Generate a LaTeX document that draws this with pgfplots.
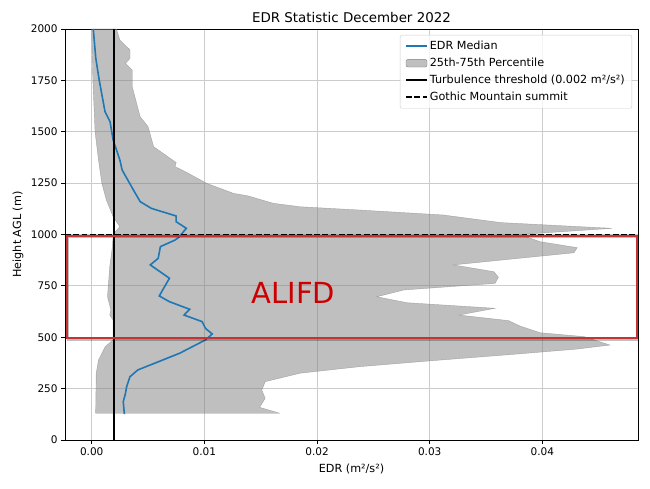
\documentclass[border=0pt]{standalone}
\usepackage{fontspec}
\setmainfont{DejaVu Sans}
\usepackage{pgfplots}
\pgfplotsset{compat=1.18}
\definecolor{mplblue}{HTML}{1F77B4}
\definecolor{boxred}{RGB}{196,52,52}
\definecolor{txtred}{RGB}{204,0,0}
\begin{document}
\begin{tikzpicture}
\path[use as bounding box] (-65pt,-49pt) rectangle (585pt,440pt);
\begin{axis}[
  scale only axis, width=573pt, height=411pt,
  xmin=-0.00237, xmax=0.04849, ymin=0, ymax=2000,
  xtick={0,0.01,0.02,0.03,0.04},
  xticklabels={0.00,0.01,0.02,0.03,0.04},
  ytick={0,250,500,750,1000,1250,1500,1750,2000},
  yticklabels={0,250,500,750,1000,1250,1500,1750,2000},
  scaled x ticks=false,
  xtick pos=bottom, ytick pos=left,
  tick align=outside, major tick length=3.9pt,
  tick style={black, line width=0.9pt},
  axis line style={line width=0.9pt},
  xmajorgrids, ymajorgrids,
  grid style={color=black!20, line width=0.9pt},
  tick label style={font=\fontsize{10.5}{12.6}\selectfont},
  label style={font=\fontsize{11.2}{13.4}\selectfont},
  title style={font=\fontsize{13.4}{16}\selectfont, at={([yshift=0.3pt]rel axis cs:0.5,1)}, anchor=base},
  title={EDR Statistic December 2022},
  xlabel={EDR (m²/s²)},
  ylabel={Height AGL (m)},
  xlabel style={at={([yshift=-33pt]rel axis cs:0.5,0)}, anchor=base},
  ylabel style={at={([xshift=-47pt]rel axis cs:0,0.5)}, anchor=center},
  legend cell align=left,
  legend style={at={(rel axis cs:1,1)}, anchor=north east, xshift=-6pt, yshift=-6pt,
    draw=black!20, rounded corners=2pt, fill=white, fill opacity=0.8, text opacity=1,
    font=\fontsize{11.2}{13.4}\selectfont, row sep=3pt, inner xsep=5pt, inner ysep=4pt},
  legend image code/.code={\draw[#1] (0pt,0pt) -- (21pt,0pt);},
]
\addlegendimage{color=mplblue, line width=1.6pt}
\addlegendentry{EDR Median}
\addlegendimage{legend image code/.code={\fill[gray, fill opacity=0.5] (0pt,-3.8pt) rectangle (21pt,3.8pt);}}
\addlegendentry{25th-75th Percentile}
\addlegendimage{black, line width=1.7pt}
\addlegendentry{Turbulence threshold (0.002 m²/s²)}
\addlegendimage{black, line width=1.7pt, dash pattern=on 5.8pt off 2.5pt}
\addlegendentry{Gothic Mountain summit}

% 25th-75th percentile polygon: 75th bottom->top, then 25th top->bottom
\addplot[forget plot, fill=gray, fill opacity=0.5, draw=gray, draw opacity=0.6, line width=0.4pt] coordinates {
(0.0167,130) (0.0149,159) (0.0154,203) (0.0151,243) (0.0154,284) (0.0185,325)
(0.0238,357) (0.0300,385) (0.0370,415) (0.0430,442) (0.0460,462) (0.0437,503)
(0.0398,522) (0.0380,555) (0.0370,581) (0.0326,608) (0.0358,641) (0.0280,668)
(0.0253,697) (0.0277,730) (0.0358,762) (0.0361,792) (0.0357,819) (0.0321,852)
(0.0428,911) (0.0431,936) (0.0398,965) (0.0380,1000) (0.0462,1030) (0.0363,1058)
(0.0312,1095) (0.0238,1119) (0.0185,1135) (0.0161,1152) (0.0138,1189) (0.0126,1200)
(0.0102,1249) (0.0083,1306) (0.0074,1330) (0.0075,1350) (0.0055,1427) (0.0050,1525)
(0.0043,1573) (0.0036,1719) (0.0036,1800) (0.0030,1833) (0.0034,1857) (0.0034,1898)
(0.0025,1946) (0.0022,2000)
(0.0000,2000) (0.0001,1752) (0.0003,1500) (0.0006,1363) (0.0009,1249) (0.0013,1168)
(0.0019,1087) (0.0025,1038) (0.0021,1014) (0.0019,989) (0.0018,925) (0.0016,843)
(0.0014,697) (0.0017,633) (0.0016,608) (0.0019,584) (0.0019,487) (0.0012,454)
(0.0006,389) (0.0004,324) (0.00035,130) (0.0167,130)
};

% median
\addplot[forget plot, color=mplblue, line width=1.6pt] coordinates {
(0.0029,126) (0.0028,186) (0.0030,227) (0.0031,259) (0.0034,308) (0.0041,341)
(0.0078,422) (0.0101,487) (0.0107,516) (0.0101,543) (0.0098,576) (0.0082,608)
(0.0087,636) (0.0069,673) (0.0060,701) (0.0063,730) (0.0069,787) (0.0052,852)
(0.0059,884) (0.0061,941) (0.0074,973) (0.0077,985) (0.0084,1030) (0.0075,1062)
(0.0075,1090) (0.0053,1127) (0.0043,1160) (0.0037,1217) (0.0027,1314) (0.0025,1363)
(0.0019,1460) (0.00163,1549) (0.00118,1598) (0.00065,1757) (0.00036,1859) (0.00014,2000)
};

% turbulence threshold
\addplot[forget plot, black, line width=1.7pt] coordinates {(0.002,0) (0.002,2000)};
% Gothic Mountain summit
\addplot[forget plot, black, line width=1.7pt, dash pattern=on 5.8pt off 2.5pt] coordinates {(-0.00237,1000) (0.04849,1000)};

% ALIFD box with shadow
\draw[black, opacity=0.25, line width=2pt] ([xshift=1.5pt,yshift=-1.5pt]axis cs:-0.0022,496) rectangle ([xshift=1.5pt,yshift=-1.5pt]axis cs:0.0484,993);
\draw[boxred, line width=2pt] (axis cs:-0.0022,496) rectangle (axis cs:0.0484,993);
\node[text=txtred, font=\fontsize{29}{34}\selectfont] at (axis cs:0.0179,715) {ALIFD};
\end{axis}
\end{tikzpicture}
\end{document}
